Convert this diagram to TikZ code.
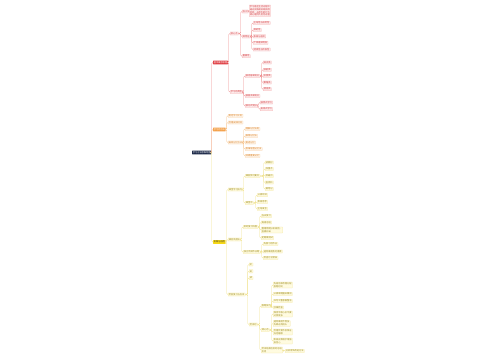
\documentclass[tikz,border=0pt]{standalone}
\usepackage{fontspec}
\newfontfamily\cjk{Noto Sans CJK SC}
\usetikzlibrary{calc}
\definecolor{navy}{HTML}{1E2B4A}
\definecolor{rmain}{HTML}{E04146}
\definecolor{rline}{HTML}{EE8E90}
\definecolor{rfill}{HTML}{FDEBEB}
\definecolor{rdraw}{HTML}{F5B3B5}
\definecolor{rtext}{HTML}{D23A3F}
\definecolor{omain}{HTML}{F4A14A}
\definecolor{oline}{HTML}{F7C38A}
\definecolor{ofill}{HTML}{FEF4E8}
\definecolor{odraw}{HTML}{F9D2A8}
\definecolor{otext}{HTML}{D9822A}
\definecolor{ymain}{HTML}{F6D816}
\definecolor{yline}{HTML}{F1E38F}
\definecolor{yfill}{HTML}{FFFBE0}
\definecolor{ydraw}{HTML}{F3E7A0}
\definecolor{ytext}{HTML}{9C8A1E}
\newcommand\mmlink[3]{\draw[#1] (#2.east) -| ($(#3.west)+(-1.3pt,0pt)$) -- (#3.west);}
\tikzset{
  fnt/.style={font=\cjk\fontsize{2.2pt}{2.8pt}\selectfont, anchor=west, inner xsep=0.8pt, inner ysep=0.5pt, line width=0.25pt, rounded corners=0.3pt},
  sl/.style={text height=1.8pt, text depth=0.4pt},
  ml/.style={align=left},
  rootn/.style={fnt, sl, fill=navy, text=white, inner ysep=0.7pt},
  rmainn/.style={fnt, sl, fill=rmain, text=white, inner ysep=0.7pt},
  omainn/.style={fnt, sl, fill=omain, text=white, inner ysep=0.7pt},
  ymainn/.style={fnt, sl, fill=ymain, text=black!80, inner ysep=0.7pt},
  rc/.style={fnt, sl, fill=rfill, draw=rdraw, text=rtext},
  rcm/.style={fnt, ml, fill=rfill, draw=rdraw, text=rtext},
  oc/.style={fnt, sl, fill=ofill, draw=odraw, text=otext},
  yc/.style={fnt, sl, fill=yfill, draw=ydraw, text=ytext},
  ycm/.style={fnt, ml, fill=yfill, draw=ydraw, text=ytext},
  rl/.style={draw=rline, line width=0.4pt, rounded corners=1.2pt},
  ol/.style={draw=oline, line width=0.4pt, rounded corners=1.2pt},
  yl/.style={draw=yline, line width=0.4pt, rounded corners=1.2pt},
}
\begin{document}
\begin{tikzpicture}[x=1pt,y=-1pt]
\fill[white] (0,0) rectangle (500,360);
\useasboundingbox (0,0) rectangle (500,360);
% root and main branches
\node[rootn] (R) at (192,152.5) {学习方法思维导图};
\node[rmainn] (A) at (213,62.5) {基本概念原理};
\node[omainn] (B) at (213,129.5) {学习的方法};
\node[ymainn] (C) at (213,242) {实践与应用};
% red branch
\node[rc] (A1) at (230,33.5) {核心点};
\node[rc] (A1a) at (242,11.5) {含义};
\node[rcm] (A1a1) at (249,10.8) {学习是在生活过程中\\通过实践或训练获得\\经验，从而引起行为\\或心理持久变化过程};
\node[rc] (A1b) at (242,36.5) {其特征};
\node[rc] (A1b1) at (253,23) {主动性与自觉性};
\node[rc] (A1b2) at (253,30) {目的性};
\node[rc] (A1b3) at (253,36.3) {系统与连续};
\node[rc] (A1b4) at (253,42.8) {个体差异明显};
\node[rc] (A1b5) at (253,49.5) {持续性与阶段性};
\node[rc] (A1c) at (242,56.2) {重要性};
\node[rc] (A2) at (230,92) {学习的类型};
\node[rc] (A2a) at (245,76) {按内容来划分};
\node[rc] (A2a1) at (263,62.5) {知识类};
\node[rc] (A2a2) at (263,69.8) {技能类};
\node[rc] (A2a3) at (263,75.8) {态度类};
\node[rc] (A2a4) at (263,82.5) {策略类};
\node[rc] (A2a5) at (263,89.2) {情感类};
\node[rc] (A2b) at (245,96) {按层次来划分};
\node[rc] (A2c) at (245,105.8) {按方式划分};
\node[rc] (A2c1) at (260,102.5) {接受式学习};
\node[rc] (A2c2) at (260,109.2) {发现式学习};
% orange branch
\node[oc] (B1) at (228,115.8) {制定学习计划};
\node[oc] (B2) at (228,122.5) {合理安排时间};
\node[oc] (B3) at (228,142.5) {高效记忆方法};
\node[oc] (B31) at (245,129) {理解记忆法则};
\node[oc] (B32) at (245,136) {联想记忆法};
\node[oc] (B33) at (245,142.5) {复述记忆};
\node[oc] (B34) at (245,149) {思维导图记忆法};
\node[oc] (B35) at (245,155.8) {间隔重复记忆};
% yellow branch
\node[yc] (C1) at (228,189.5) {课堂学习技巧};
\node[yc] (C1a) at (245,176) {课前预习要点};
\node[yc] (C1a1) at (265,162.5) {读教材};
\node[yc] (C1a2) at (265,169) {找重点};
\node[yc] (C1a3) at (265,176) {标疑问};
\node[yc] (C1a4) at (265,182.5) {查资料};
\node[yc] (C1a5) at (265,189) {做笔记};
\node[yc] (C1b) at (245,203) {课堂中};
\node[yc] (C1b1) at (257,195.2) {认真听讲};
\node[yc] (C1b2) at (257,202) {积极思考};
\node[yc] (C1b3) at (257,208.8) {主动发言};
\node[yc] (C2) at (228,239.5) {课后巩固法};
\node[yc] (C2a) at (243,227) {及时复习巩固};
\node[yc] (C2a1) at (261,216) {当天复习};
\node[yc] (C2a2) at (261,222.5) {每周总结};
\node[ycm] (C2a3) at (261,230) {整理错题分析原因，\\查漏补缺};
\node[yc] (C2a4) at (261,238) {定期做测试};
\node[yc] (C2b) at (243,252) {独立完成作业题};
\node[yc] (C2b1) at (263,244) {先复习后作业};
\node[yc] (C2b2) at (263,251.5) {遇到难题及时请教};
\node[yc] (C2b3) at (263,258) {检查订正错误};
\node[yc] (C3) at (228,294.5) {考前复习与应试};
\node[yc] (C3a) at (249,264.5) {听};
\node[yc] (C3b) at (249,271.3) {说};
\node[yc] (C3c) at (249,278) {读};
\node[yc] (C3d) at (249,324.5) {考试时};
\node[yc] (D1) at (261,306) {答题技巧};
\node[ycm] (D11) at (273,285) {先易后难合理分配\\答题时间};
\node[yc] (D12) at (273,294) {认真审题圈关键词};
\node[yc] (D13) at (273,301) {书写工整卷面整洁};
\node[yc] (D14) at (273,307.5) {仔细检查};
\node[yc] (D2) at (261,330) {调心态};
\node[ycm] (D21) at (273,314) {保持平稳心态不要\\过度紧张};
\node[ycm] (D22) at (273,323.5) {遇到难题不慌张\\先跳过再回头};
\node[ycm] (D23) at (273,332) {合理饮食作息保证\\充足睡眠};
\node[ycm] (D24) at (273,341) {积极自我暗示增强\\自信心};
\node[ycm] (D3) at (261,350) {考试结束后及时总结\\反思};
\node[yc] (D31) at (285,351) {分析得失改进方法};
% connectors
\mmlink{rl}{R}{A}
\mmlink{ol}{R}{B}
\mmlink{yl}{R}{C}
\mmlink{rl}{A}{A1}
\mmlink{rl}{A}{A2}
\mmlink{rl}{A1}{A1a}
\mmlink{rl}{A1a}{A1a1}
\mmlink{rl}{A1}{A1b}
\mmlink{rl}{A1b}{A1b1}
\mmlink{rl}{A1b}{A1b2}
\mmlink{rl}{A1b}{A1b3}
\mmlink{rl}{A1b}{A1b4}
\mmlink{rl}{A1b}{A1b5}
\mmlink{rl}{A1}{A1c}
\mmlink{rl}{A2}{A2a}
\mmlink{rl}{A2a}{A2a1}
\mmlink{rl}{A2a}{A2a2}
\mmlink{rl}{A2a}{A2a3}
\mmlink{rl}{A2a}{A2a4}
\mmlink{rl}{A2a}{A2a5}
\mmlink{rl}{A2}{A2b}
\mmlink{rl}{A2}{A2c}
\mmlink{rl}{A2c}{A2c1}
\mmlink{rl}{A2c}{A2c2}
\mmlink{ol}{B}{B1}
\mmlink{ol}{B}{B2}
\mmlink{ol}{B}{B3}
\mmlink{ol}{B3}{B31}
\mmlink{ol}{B3}{B32}
\mmlink{ol}{B3}{B33}
\mmlink{ol}{B3}{B34}
\mmlink{ol}{B3}{B35}
\mmlink{yl}{C}{C1}
\mmlink{yl}{C}{C2}
\mmlink{yl}{C}{C3}
\mmlink{yl}{C1}{C1a}
\mmlink{yl}{C1a}{C1a1}
\mmlink{yl}{C1a}{C1a2}
\mmlink{yl}{C1a}{C1a3}
\mmlink{yl}{C1a}{C1a4}
\mmlink{yl}{C1a}{C1a5}
\mmlink{yl}{C1}{C1b}
\mmlink{yl}{C1b}{C1b1}
\mmlink{yl}{C1b}{C1b2}
\mmlink{yl}{C1b}{C1b3}
\mmlink{yl}{C2}{C2a}
\mmlink{yl}{C2a}{C2a1}
\mmlink{yl}{C2a}{C2a2}
\mmlink{yl}{C2a}{C2a3}
\mmlink{yl}{C2a}{C2a4}
\mmlink{yl}{C2}{C2b}
\mmlink{yl}{C2b}{C2b1}
\mmlink{yl}{C2b}{C2b2}
\mmlink{yl}{C2b}{C2b3}
\mmlink{yl}{C3}{C3a}
\mmlink{yl}{C3}{C3b}
\mmlink{yl}{C3}{C3c}
\mmlink{yl}{C3}{C3d}
\mmlink{yl}{C3d}{D1}
\mmlink{yl}{D1}{D11}
\mmlink{yl}{D1}{D12}
\mmlink{yl}{D1}{D13}
\mmlink{yl}{D1}{D14}
\mmlink{yl}{C3d}{D2}
\mmlink{yl}{D2}{D21}
\mmlink{yl}{D2}{D22}
\mmlink{yl}{D2}{D23}
\mmlink{yl}{D2}{D24}
\mmlink{yl}{C3d}{D3}
\mmlink{yl}{D3}{D31}
\end{tikzpicture}
\end{document}
